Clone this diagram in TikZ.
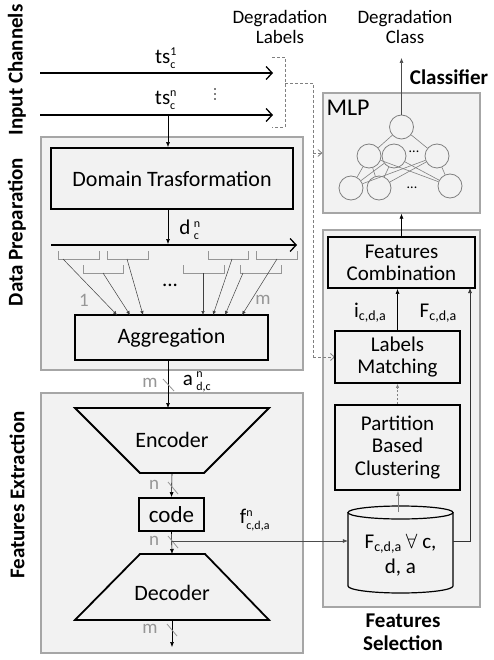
\documentclass[tikz,border=0pt]{standalone}
\usepackage{fontspec}
\setmainfont{Carlito}
\usetikzlibrary{arrows.meta}
\definecolor{boxfill}{RGB}{242,242,242}
\definecolor{boxline}{RGB}{166,166,166}
\definecolor{lblgray}{RGB}{150,150,150}
\definecolor{cgray}{RGB}{128,128,128}
\newcommand{\fsz}[1]{\fontsize{#1}{#1}\selectfont}
\newcommand{\sbsp}[3]{#1$^{\mbox{\fsz{12}#2}}_{\mbox{\fsz{12}#3}}$}
\newcommand{\sbonly}[2]{#1\raisebox{-0.3ex}{\fsz{14}#2}}
\begin{document}
\begin{tikzpicture}[x=1pt,y=-1pt,font=\fsz{21},
  outerbox/.style={draw=boxline,fill=boxfill,line width=1.2pt,inner sep=0pt},
  innerbox/.style={draw=black,fill=boxfill,line width=1.8pt,inner sep=0pt,align=center,font=\fsz{21}\linespread{1.05}\selectfont},
  arr/.style={-{Latex[length=5pt,width=4pt]},line width=0.6pt},
  garr/.style={-{Latex[length=5pt,width=4pt]},line width=0.6pt,draw=cgray},
  barb/.style={-{Straight Barb[length=6pt,width=13pt,line width=1.3pt]},line width=1.3pt},
  dsh/.style={draw=cgray,line width=0.8pt,dash pattern=on 3pt off 2pt},
  dsharr/.style={dsh,-{Straight Barb[length=4pt,width=7pt,line width=0.8pt]}},
  brk/.style={draw=lblgray,line width=1pt},
  slash/.style={draw=lblgray,line width=0.8pt},
  glbl/.style={text=lblgray,font=\fsz{19}},
  neuron/.style={circle,draw=cgray,line width=0.8pt,minimum size=24pt,inner sep=0pt},
  title/.style={font=\fsz{21}\bfseries},
  nline/.style={draw=cgray,line width=0.6pt}]
\useasboundingbox (0,0) rectangle (493,660);
\fill[white] (0,0) rectangle (493,660);

% left titles
\node[title,rotate=90] (tin) at (17,70) {Input Channels};
\node[title,rotate=90] (tdp) at (17,232) {Data Preparation};
\node[title,rotate=90] (tfe) at (17,495) {Features Extraction};

% outer boxes
\node[outerbox,minimum width=262pt,minimum height=233pt] (dp) at (172,253.5) {};
\node[outerbox,minimum width=262pt,minimum height=260pt] (fe) at (172,523) {};
\node[outerbox,minimum width=157pt,minimum height=120pt] (mlp) at (401.5,153) {};
\node[outerbox,minimum width=157pt,minimum height=377pt] (fsel) at (401.5,418.5) {};

% top labels
\node[align=center,font=\fsz{19}\linespread{1.1}\selectfont] (dlab) at (280,27) {Degradation\\Labels};
\node[align=center,font=\fsz{19}\linespread{1.1}\selectfont] (dcls) at (405,27) {Degradation\\Class};
\node[title] (tcl) at (449,77) {Classifier};
\node[title,align=center,font=\fsz{21}\bfseries\linespread{1.1}\selectfont] (tfs) at (403,632) {Features\\Selection};

% input channels
\coordinate (i1s) at (40,73); \coordinate (i1e) at (273,73);
\coordinate (i2s) at (40,115); \coordinate (i2e) at (273,115);
\draw[barb] (i1s) -- (i1e);
\draw[barb] (i2s) -- (i2e);
\node (ts1) at (166,58) {\sbsp{ts}{1}{c}};
\node (tsn) at (166,100) {\sbsp{ts}{n}{c}};
\foreach \yy in {89,94,99} \fill (215,\yy) circle (0.9pt);

% dashed labels bracket
\coordinate (bk1) at (272,57); \coordinate (bk2) at (285,57);
\coordinate (bk3) at (285,127); \coordinate (bk4) at (272,127);
\draw[dsh] (bk1) -- (bk2) -- (bk3) -- (bk4);
\coordinate (dj) at (285,83); \coordinate (dv1) at (313,83);
\coordinate (dv2) at (313,357); \coordinate (dvm) at (313,153);
\draw[dsh] (dj) -- (dv1) -- (dv2);
\draw[dsharr] (dv2) -- (335,357);
\draw[dsharr] (dvm) -- (mlp.west);

% data preparation
\node[innerbox,minimum width=242pt,minimum height=61pt,font=\fsz{22}] (dt) at (172,178.5) {Domain Trasformation};
\coordinate (tap) at (168,115);
\draw[arr] (tap) -- (tap |- dt.north);
\coordinate (dl1) at (51,245); \coordinate (dl2) at (297,245);
\coordinate (dtb) at (168,209); \coordinate (dlt) at (168,244);
\draw[arr] (dtb) -- (dlt);
\draw[barb] (dl1) -- (dl2);
\node (dcn) at (190,230) {d\,$^{\mbox{\fsz{12}n}}_{\mbox{\fsz{12}c}}$};

\node[innerbox,minimum width=193pt,minimum height=45pt,font=\fsz{22}] (agg) at (171.5,337.5) {Aggregation};

% brackets
\foreach \xa/\xb in {58/99,107/148,208/248,256/297}
  \draw[brk] (\xa,251) -- (\xa,259) -- (\xb,259) -- (\xb,251);
\foreach \xa/\xb in {83/123,183/224,240/281}
  \draw[brk] (\xa,265) -- (\xa,273) -- (\xb,273) -- (\xb,265);
\foreach \sx/\sy/\ex in {63/259/117,103/273/130,127/259/143,203/273/203,232/259/213,243/273/225,277/259/242}
  \draw[-{Latex[length=4pt,width=3.5pt]},line width=0.5pt,draw=black!75] (\sx,\sy) -- (\ex,315);
\node (dots1) at (170,285) {...};
\node[glbl] (one) at (84,300) {1};
\node[glbl] (em) at (263,300) {m};

% features extraction
\coordinate (aggb) at (168,360); \coordinate (enct) at (168,408);
\draw[arr] (aggb) -- (enct);
\draw[slash] (163,379) -- (174,391);
\node[glbl] (m1) at (150,383) {m};
\node (adc) at (197,382) {a\,$^{\mbox{\fsz{12}n}}_{\mbox{\fsz{12}d,c}}$};

\draw[line width=1.8pt,fill=boxfill] (75,408) -- (269,408) -- (204,473) -- (140,473) -- cycle;
\node[font=\fsz{22}] (enc) at (172,440) {Encoder};
\node[innerbox,minimum width=65pt,minimum height=33pt,font=\fsz{23}] (code) at (171.5,514.5) {code};
\coordinate (encb) at (172,473);
\draw[arr] (encb) -- (code.north);
\draw[slash] (168,482) -- (178,494);
\node[glbl] (n1) at (154,485) {n};

\draw[line width=1.8pt,fill=boxfill] (140,554) -- (205,554) -- (269,620) -- (75,620) -- cycle;
\node[font=\fsz{22}] (dec) at (172,593) {Decoder};
\coordinate (dect) at (172,554);
\draw[arr] (code.south) -- (dect);
\draw[slash] (168,536) -- (178,548);
\node[glbl] (n2) at (154,541) {n};
\node (fcda) at (255,520) {f$^{\mbox{\fsz{12}n}}_{\mbox{\fsz{12}c,d,a}}$};

\coordinate (decb) at (172,620); \coordinate (deco) at (172,647);
\draw[arr] (decb) -- (deco);
\draw[slash] (167,624) -- (177,636);
\node[glbl] (m2) at (150,629) {m};

% cylinder
\node[minimum width=105pt,minimum height=80pt,inner sep=0pt] (db) at (400.5,550) {};
\draw[line width=1.2pt,fill=boxfill] (348,512.5) -- (348,586) arc[start angle=180,end angle=360,x radius=52.5pt,y radius=7pt] -- (453,512.5);
\draw[line width=1.2pt,fill=boxfill] (400.5,512.5) ellipse [x radius=52.5pt,y radius=6.5pt];
\node[align=center,font=\fsz{21}\linespread{1.2}\selectfont] (dbt) at (400.5,555) {\sbonly{F}{c,d,a} $\forall$ c,\\ d, a};
\coordinate (split) at (172,541);
\draw[arr,draw=black!70] (split) -- (db.west |- split);

% features selection
\node[innerbox,minimum width=147pt,minimum height=51pt] (fc) at (401.5,262.5) {Features\\Combination};
\node[innerbox,minimum width=125pt,minimum height=52pt] (lm) at (397.5,357) {Labels\\Matching};
\node[innerbox,minimum width=125pt,minimum height=85pt] (pbc) at (397.5,447.5) {Partition\\Based\\Clustering};
\draw[arr] (lm.north) -- (lm.north |- fc.south);
\node (icda) at (370,313) {\sbonly{i}{c,d,a}};
\node (Fcda) at (438,313) {\sbonly{F}{c,d,a}};
\draw[-{Latex[length=4pt,width=3.5pt]},line width=0.6pt,draw=cgray,dash pattern=on 2pt off 2pt] (pbc.north) -- (lm.south);
\coordinate (dbtop) at (398,512);
\draw[garr] (dbtop) -- (dbtop |- pbc.south);
\coordinate (fcin) at (470,288);
\draw[arr,draw=black!80] (db.east |- split) -| (fcin);
\draw[arr] (fc.north) -- (mlp.south);

% MLP
\node[font=\fsz{24}] (mlpt) at (348,108) {MLP};
\node[neuron] (t) at (401.5,127) {};
\node[neuron] (a1) at (369,156) {};
\node[neuron] (a2) at (394,156) {};
\node[neuron] (a3) at (437,156) {};
\node[neuron] (b1) at (351,188) {};
\node[neuron] (b2) at (379,188) {};
\node[neuron] (b3) at (450,186) {};
\node[font=\fsz{14}] (d1) at (414,152) {...};
\node[font=\fsz{14}] (d2) at (412,188) {...};
\draw[nline] (t) -- (a1); \draw[nline] (t) -- (a3);
\foreach \u in {a1,a2,a3} \foreach \v in {b1,b2,b3} \draw[nline] (\u) -- (\v);
\coordinate (clsout) at (401.5,58);
\draw[arr,draw=black!70] (t.north) -- (clsout);
\end{tikzpicture}
\end{document}
